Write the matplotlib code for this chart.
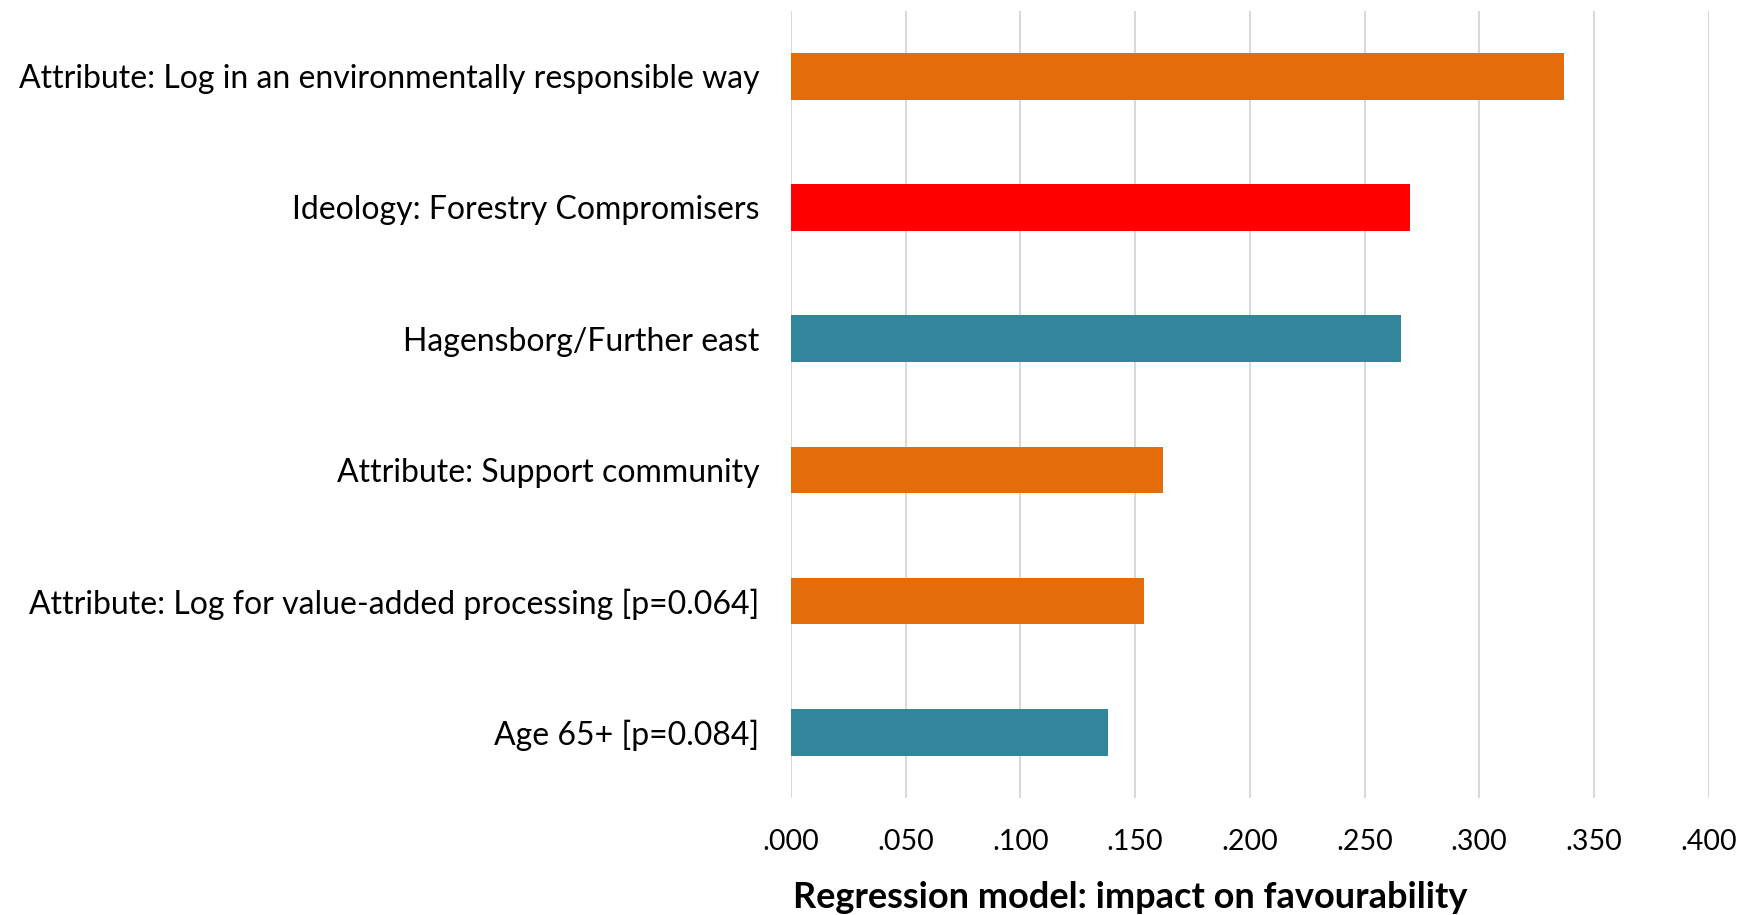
import matplotlib.pyplot as plt

labels = ["Attribute: Log in an environmentally responsible way",
          "Ideology: Forestry Compromisers",
          "Hagensborg/Further east",
          "Attribute: Support community",
          "Attribute: Log for value-added processing [p=0.064]",
          "Age 65+ [p=0.084]"]
values = [0.337, 0.270, 0.266, 0.162, 0.154, 0.138]
colors = ["#E46C0A", "#FF0000", "#31869B", "#E46C0A", "#E46C0A", "#31869B"]
ticks = [0.0, 0.05, 0.1, 0.15, 0.2, 0.25, 0.3, 0.35, 0.4]
tick_labels = [".000", ".050", ".100", ".150", ".200", ".250", ".300", ".350", ".400"]

plt.rcParams['font.family'] = ['Lato', 'DejaVu Sans']

fig = plt.figure(figsize=(17.39, 9.15), dpi=100)
ax = fig.add_axes([0.4549, 0.1279, 0.9825 - 0.4549, 0.9884 - 0.1279])

y = list(range(len(labels)))
ax.barh(y, values, height=0.356, color=colors, zorder=2)
ax.set_ylim(len(labels) - 0.5, -0.5)
ax.set_xlim(0, 0.4)
ax.set_yticks(y)
ax.set_yticklabels(labels, fontsize=23)
ax.set_xticks(ticks)
ax.set_xticklabels(tick_labels, fontsize=20.5)
ax.tick_params(axis='y', length=0, pad=23)
ax.tick_params(axis='x', length=0, pad=22)
ax.grid(axis='x', color='#D9D9D9', linewidth=1.5, zorder=0)
for s in ax.spines.values():
    s.set_visible(False)

fig.text(1130 / 1739, 1 - 897 / 915, "Regression model: impact on favourability",
         fontsize=26, fontweight='bold', ha='center', va='center')

fig.savefig("out.png", dpi=100)
